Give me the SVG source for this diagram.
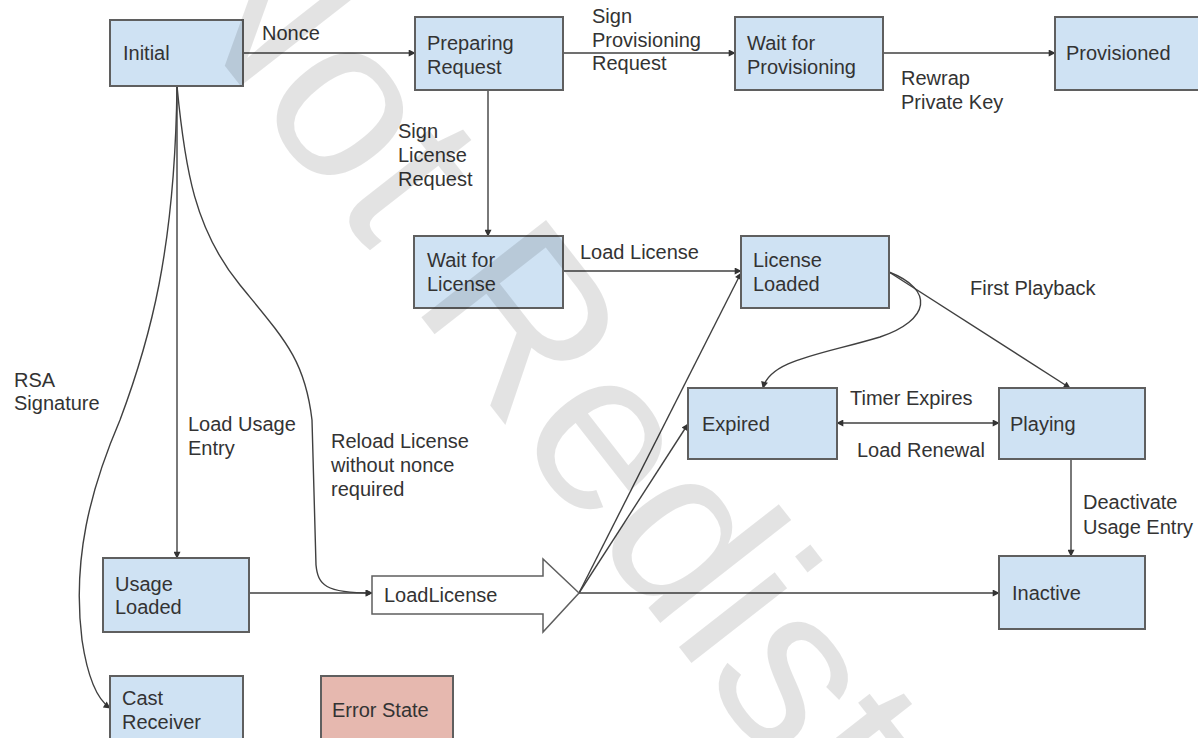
<svg xmlns="http://www.w3.org/2000/svg" width="1198" height="738" viewBox="0 0 1198 738">
<defs>
<style>
.box{fill:#cfe2f3;stroke:#5f5f5f;stroke-width:2}
.err{fill:#e6b8af;stroke:#5f5f5f;stroke-width:2}
.blk{fill:#ffffff;stroke:#5f5f5f;stroke-width:1.5}
.t{font-family:"Liberation Sans",Arial,sans-serif;font-size:20px;fill:#333333}
.c{fill:none;stroke:#404040;stroke-width:1.4}
.wm{font-family:"Liberation Sans",Arial,sans-serif;font-size:230px;fill:#000000;fill-opacity:0.11}
</style>
<marker id="ah" viewBox="0 0 10 10" refX="9" refY="5" markerWidth="8" markerHeight="7" markerUnits="userSpaceOnUse" orient="auto-start-reverse">
<path d="M0,0 L10,5 L0,10 z" fill="#333333"/>
</marker>
</defs>
<rect width="1198" height="738" fill="#ffffff"/>

<g id="connectors">
<path class="c" d="M243,53 H415" marker-end="url(#ah)"/>
<path class="c" d="M563,53 H735" marker-end="url(#ah)"/>
<path class="c" d="M883,53 H1055" marker-end="url(#ah)"/>
<path class="c" d="M488,90 V236" marker-end="url(#ah)"/>
<path class="c" d="M563,271 H741" marker-end="url(#ah)"/>
<path class="c" d="M889,272 C935,290 930,320 880,337 C820,355 770,360 763,388" marker-end="url(#ah)"/>
<path class="c" d="M889,272 L1070,388" marker-end="url(#ah)"/>
<path class="c" d="M837,423 H999" marker-start="url(#ah)" marker-end="url(#ah)"/>
<path class="c" d="M1071,459 V556" marker-end="url(#ah)"/>
<path class="c" d="M579,593 H999" marker-end="url(#ah)"/>
<path class="c" d="M579,593 L741,273" marker-end="url(#ah)"/>
<path class="c" d="M579,593 L688,424" marker-end="url(#ah)"/>
<path class="c" d="M177,86 V558" marker-end="url(#ah)"/>
<path class="c" d="M177,86 C175,250 150,340 120,420 C90,490 72,560 82,640 C88,680 98,700 110,708" marker-end="url(#ah)"/>
<path class="c" d="M177,86 C185,170 195,230 240,285 C285,340 305,360 312,420 L316,565 C318,585 325,593 372,593" marker-end="url(#ah)"/>
<path class="c" d="M249,593 H372" marker-end="url(#ah)"/>
</g>

<g id="edge-labels" class="t">
<text class="t" x="262" y="40">Nonce</text>
<text class="t" x="592" y="23">Sign</text>
<text class="t" x="592" y="47">Provisioning</text>
<text class="t" x="592" y="70">Request</text>
<text class="t" x="901" y="85">Rewrap</text>
<text class="t" x="901" y="109">Private Key</text>
<text class="t" x="398" y="138">Sign</text>
<text class="t" x="398" y="162">License</text>
<text class="t" x="398" y="186">Request</text>
<text class="t" x="580" y="259">Load License</text>
<text class="t" x="970" y="295">First Playback</text>
<text class="t" x="850" y="405">Timer Expires</text>
<text class="t" x="857" y="457">Load Renewal</text>
<text class="t" x="1083" y="509">Deactivate</text>
<text class="t" x="1083" y="534">Usage Entry</text>
<text class="t" x="14" y="387">RSA</text>
<text class="t" x="14" y="410">Signature</text>
<text class="t" x="188" y="431">Load Usage</text>
<text class="t" x="188" y="455">Entry</text>
<text class="t" x="331" y="448">Reload License</text>
<text class="t" x="331" y="472">without nonce</text>
<text class="t" x="331" y="496">required</text>
</g>

<g id="initial"><rect class="box" x="110" y="20" width="133" height="66"/><text class="t" x="123" y="60">Initial</text></g>
<g id="preparing-request"><rect class="box" x="415" y="17" width="148" height="73"/><text class="t" x="427" y="50">Preparing</text><text class="t" x="427" y="74">Request</text></g>
<g id="wait-for-provisioning"><rect class="box" x="735" y="17" width="148" height="73"/><text class="t" x="747" y="50">Wait for</text><text class="t" x="747" y="74">Provisioning</text></g>
<g id="provisioned"><rect class="box" x="1055" y="17" width="145" height="73"/><text class="t" x="1066" y="60">Provisioned</text></g>
<g id="wait-for-license"><rect class="box" x="414" y="236" width="149" height="72"/><text class="t" x="427" y="267">Wait for</text><text class="t" x="427" y="291">License</text></g>
<g id="license-loaded"><rect class="box" x="741" y="236" width="148" height="72"/><text class="t" x="753" y="267">License</text><text class="t" x="753" y="291">Loaded</text></g>
<g id="expired"><rect class="box" x="688" y="388" width="149" height="71"/><text class="t" x="702" y="431">Expired</text></g>
<g id="playing"><rect class="box" x="999" y="388" width="146" height="71"/><text class="t" x="1010" y="431">Playing</text></g>
<g id="inactive"><rect class="box" x="999" y="556" width="146" height="73"/><text class="t" x="1012" y="600">Inactive</text></g>
<g id="usage-loaded"><rect class="box" x="103" y="558" width="146" height="74"/><text class="t" x="115" y="591">Usage</text><text class="t" x="115" y="614">Loaded</text></g>
<g id="load-license"><path class="blk" d="M372,576 H543 V559 L579,593 L543,632 V614 H372 Z"/><text class="t" x="384" y="602">LoadLicense</text></g>
<g id="cast-receiver"><rect class="box" x="110" y="676" width="133" height="72"/><text class="t" x="122" y="705">Cast</text><text class="t" x="122" y="729">Receiver</text></g>
<g id="error-state"><rect class="err" x="321" y="676" width="132" height="72"/><text class="t" x="332" y="717">Error State</text></g>

<g id="watermark"><text class="wm" transform="translate(150,-30) rotate(52)" x="0" y="0">Not Redistr</text></g>
</svg>
